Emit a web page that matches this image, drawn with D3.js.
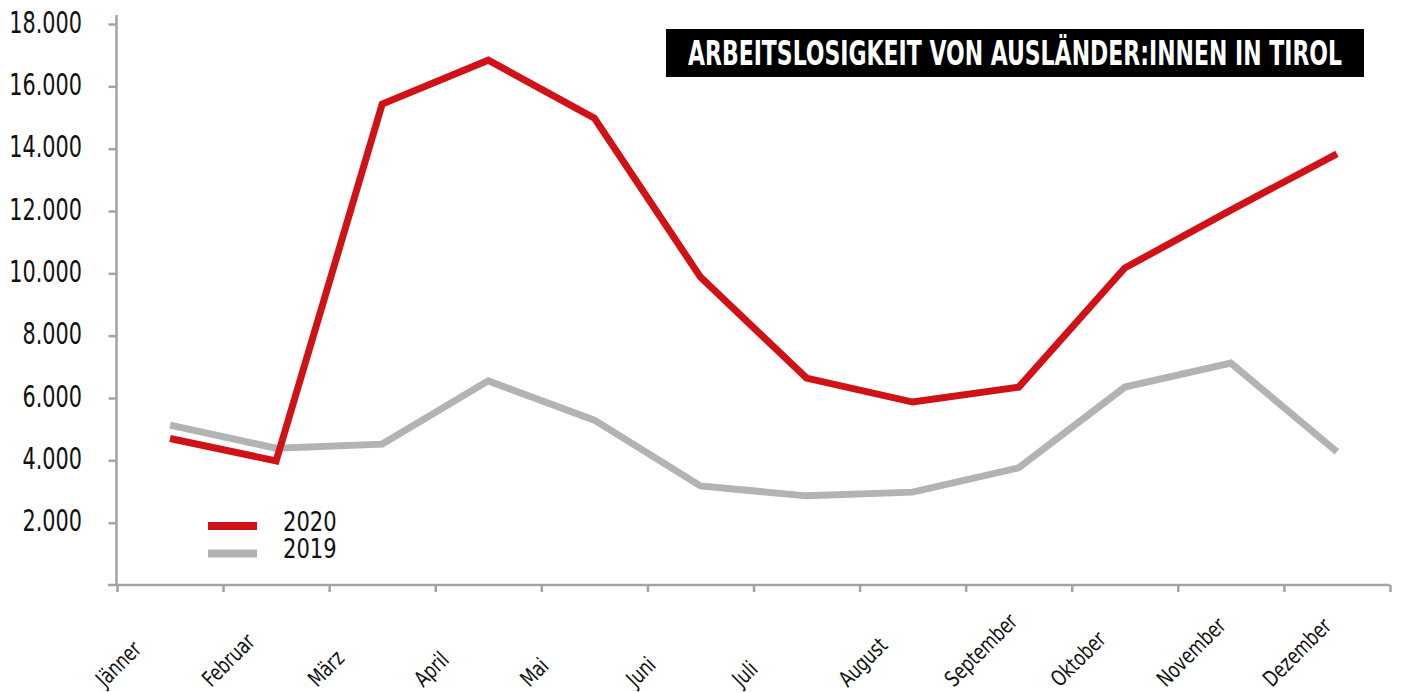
<!DOCTYPE html>
<html>
    <head>
        <meta charset="utf-8">
        <title>Arbeitslosigkeit von Ausländer:innen in Tirol</title>
        <script src="https://d3js.org/d3.v7.min.js"></script>
        <style>
            body {
                margin: 0;
                background: #fff;
            }
            svg text {
                font-family: "Liberation Sans Narrow", "DejaVu Sans Condensed", sans-serif;
                fill: #111;
            }
            .axis path, .axis line {
                stroke: #a3a3a3;
                stroke-width: 2.5px;
            }
        </style>
    </head>
    <body>
        <svg id="chart"></svg>
        <script>
            const months = ["Jänner", "Februar", "März", "April", "Mai", "Juni",
                            "Juli", "August", "September", "Oktober", "November", "Dezember"];
            const values2020 = [4700, 3980, 15430, 16840, 14980, 9880, 6640, 5870, 6350, 10170, 12030, 13830];
            const values2019 = [5130, 4390, 4520, 6550, 5290, 3180, 2860, 2980, 3760, 6350, 7120, 4270];
            const yTicks = [2000, 4000, 6000, 8000, 10000, 12000, 14000, 16000, 18000];
            const title = "ARBEITSLOSIGKEIT VON AUSLÄNDER:INNEN IN TIROL";

            const width = 1401;
            const height = 692;
            const red = "#d01217";
            const grey = "#b2b3b5";

            // the original font is much narrower than what we have, so squeeze it
            function squeeze(sel, k) {
                sel.each(function() {
                    const w = this.getComputedTextLength();
                    d3.select(this)
                        .attr("textLength", w * k)
                        .attr("lengthAdjust", "spacingAndGlyphs");
                });
            }

            const svg = d3.select("#chart")
                .attr("width", width)
                .attr("height", height);

            const x = d3.scaleBand()
                .domain(months)
                .range([117, 1390]);

            const y = d3.scaleLinear()
                .domain([0, 18000])
                .range([585, 24]);

            const de = d3.formatLocale({ decimal: ",", thousands: ".", grouping: [3], currency: ["", " €"] });

            // y axis
            const yAxis = svg.append("g")
                .attr("class", "axis")
                .attr("transform", "translate(116.5,0)")
                .call(d3.axisLeft(y).tickValues(yTicks).tickSize(8).tickSizeOuter(0).tickFormat(de.format(",")));
            yAxis.select(".domain").remove();
            yAxis.append("line")
                .attr("y1", 15)
                .attr("y2", y(0));
            yAxis.selectAll(".tick text")
                .attr("x", -34.5)
                .attr("dy", 8)
                .style("font-size", "30px")
                .call(squeeze, 0.77);

            // x axis, ticks on the month boundaries
            const xb = d3.scaleLinear().domain([0, months.length]).range(x.range());
            const xAxis = svg.append("g")
                .attr("class", "axis")
                .attr("transform", `translate(0,${y(0)})`)
                .call(d3.axisBottom(xb).ticks(months.length).tickSize(7).tickSizeOuter(0).tickFormat(""));
            xAxis.select(".domain").remove();
            xAxis.append("line")
                .attr("x1", 108)
                .attr("x2", 1390);

            svg.append("g")
                .selectAll("text")
                .data(months)
                .join("text")
                .attr("transform", d => `translate(${x(d) + x.bandwidth() / 2 - 65},688) rotate(-45)`)
                .attr("text-anchor", "start")
                .style("font-size", "22px")
                .text(d => d)
                .call(squeeze, 0.84);

            // lines
            const line = d3.line()
                .x((d, i) => x(months[i]) + x.bandwidth() / 2)
                .y(d => y(d));

            [[values2019, grey], [values2020, red]].forEach(([vals, col]) => {
                svg.append("path")
                    .datum(vals)
                    .attr("d", line)
                    .attr("fill", "none")
                    .attr("stroke", col)
                    .attr("stroke-width", 7)
                    .attr("stroke-linejoin", "miter");
            });

            // legend
            const legend = svg.append("g")
                .selectAll("g")
                .data([["2020", red], ["2019", grey]])
                .join("g")
                .attr("transform", (d, i) => `translate(208,${526 + i * 27.5})`);
            legend.append("line")
                .attr("x2", 49)
                .attr("stroke", d => d[1])
                .attr("stroke-width", 8);
            legend.append("text")
                .attr("x", 75)
                .attr("y", 4.5)
                .style("font-size", "26px")
                .text(d => d[0])
                .call(squeeze, 0.9);

            // title box
            svg.append("rect")
                .attr("x", 666)
                .attr("y", 29)
                .attr("width", 698)
                .attr("height", 48)
                .attr("fill", "#000");
            svg.append("text")
                .attr("transform", "translate(688,65) scale(1,1.2)")
                .attr("textLength", 654)
                .attr("lengthAdjust", "spacingAndGlyphs")
                .style("font-size", "28px")
                .style("font-weight", "bold")
                .style("fill", "#fff")
                .text(title);
        </script>
    </body>
</html>
